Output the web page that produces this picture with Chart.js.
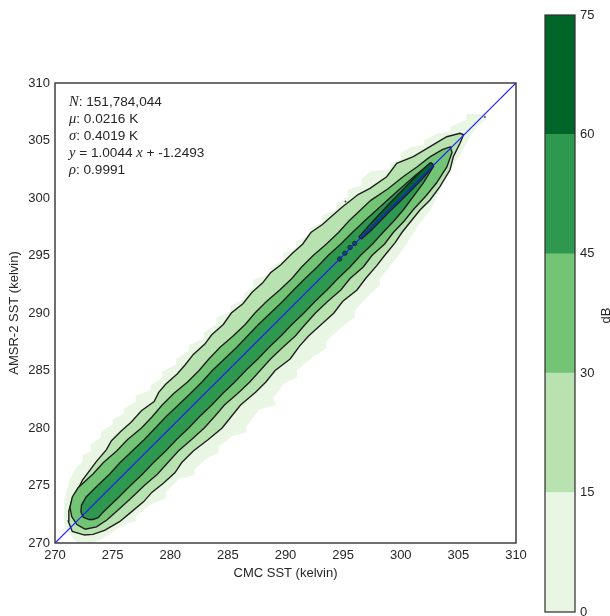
<!DOCTYPE html>
<html>
<head>
<meta charset="utf-8">
<title>AMSR-2 vs CMC SST</title>
<script src="https://cdn.jsdelivr.net/npm/chart.js@4.4.0/dist/chart.umd.min.js"></script>
<style>
  html, body { margin: 0; padding: 0; background: #fff; }
  #wrap { position: relative; width: 610px; height: 616px; }
  #main { position: absolute; left: 0; top: 0; }
  #cbar { position: absolute; left: 530px; top: 0; }
</style>
</head>
<body>
<div id="wrap">
  <canvas id="main" width="530" height="616"></canvas>
  <canvas id="cbar" width="80" height="616"></canvas>
</div>
<script>
// axes
const sstMin = 270, sstMax = 310, sstStep = 5;
const xTitle = 'CMC SST (kelvin)';
const yTitle = 'AMSR-2 SST (kelvin)';

// colour levels (dB) and their fills
const levels = [0, 15, 30, 45, 60, 75];
const bandColors = ['#e9f6e4', '#b8e3b1', '#74c476', '#2f984f', '#006529'];
const cbarLabel = 'dB';

// summary stats
const sampleCount = '151,784,044';
const meanBias = '0.0216 K';
const stdDev = '0.4019 K';
const slope = '1.0044';
const intercept = '-1.2493';
const corr = '0.9991';

// 1:1 reference line
const oneToOne = [270, 310];

// density contours, [CMC, AMSR-2] rings
const ring0 = [
  [272.0,270.0],[271.5,270.5],[270.9,271.2],[270.75,272.3],[270.8,273.5],[271.0,274.5],[271.3,275.6],
  [271.8,276.5],[272.4,277.1],[272.4,277.6],[273.1,278.0],[273.1,278.6],[274.0,279.2],[274.0,279.7],
  [275.0,280.3],[275.0,280.7],[276.0,281.3],[276.0,281.7],[277.0,282.3],[277.0,282.8],[278.3,283.3],
  [278.3,283.7],[279.3,284.4],[279.3,284.9],[280.5,285.5],[280.5,286.0],[281.6,286.7],[281.6,287.2],
  [282.9,287.8],[282.9,288.3],[284.0,289.0],[284.0,289.6],[285.2,290.1],[285.2,290.6],[286.4,291.2],
  [286.4,291.7],[287.2,292.3],[287.2,292.9],[288.6,293.4],[288.6,293.9],[289.8,294.6],[289.8,295.2],
  [290.9,295.7],[290.9,296.2],[292.1,296.8],[292.1,297.4],[293.2,297.9],[293.2,298.5],[294.4,299.0],
  [294.4,299.5],[295.4,300.1],[295.4,300.7],[296.6,301.1],[296.6,301.6],[297.3,302.3],[299.1,302.5],
  [299.1,303.0],[300.0,303.4],[300.0,303.9],[300.8,304.4],[302.0,304.6],[302.0,305.0],[303.2,305.6],
  [304.3,305.8],[304.3,306.2],[305.7,306.8],[305.7,307.3],[307.45,307.3],
  [307.4,306.8],[306.6,306.2],[306.0,305.3],[305.4,304.2],[304.6,302.9],[303.7,301.3],[302.6,299.0],
  [301.5,297.6],[300.5,296.0],[299.5,294.6],[298.2,293.0],[298.2,292.4],[297.3,291.6],[296.0,290.2],
  [296.0,289.6],[295.0,288.9],[293.5,287.5],[293.5,286.9],[292.4,286.2],[291.0,285.0],[291.0,284.4],
  [289.9,283.9],[288.9,282.6],[289.2,282.0],[287.7,281.6],[286.6,280.1],[286.6,279.6],[285.4,279.3],
  [284.2,278.4],[284.2,277.9],[283.1,277.3],[282.1,276.4],[282.1,275.9],[280.8,275.6],[279.6,274.4],
  [279.6,273.9],[278.2,273.3],[277.0,272.3],[277.0,271.9],[275.9,271.6],[274.8,270.8],[273.8,270.2],
  [273.0,270.0]
];
const ring15 = [
  [272.5,270.7],[271.5,271.0],[271.15,271.9],[271.2,272.8],[271.5,273.8],[271.95,274.6],[272.4,275.5],
  [273.0,276.3],[273.6,277.1],[274.45,278.1],[274.9,278.9],[275.7,279.7],[276.6,280.5],[277.5,281.5],
  [278.6,282.3],[279.0,283.1],[279.6,283.8],[280.6,284.7],[281.3,285.5],[282.0,286.4],[283.0,287.3],
  [283.6,288.1],[284.6,289.0],[285.3,290.0],[286.3,290.8],[287.1,291.8],[288.0,292.6],[288.7,293.5],
  [289.6,294.2],[290.6,295.2],[291.5,296.0],[292.2,297.0],[293.2,297.7],[294.1,298.5],[294.9,299.2],
  [296.3,300.3],[297.33,300.84],[298.78,301.85],[299.65,303.02],[301.09,303.59],[302.54,304.46],
  [303.99,305.33],[305.14,305.63],[305.45,305.5],
  [305.14,304.76],[304.56,303.59],[304.27,302.43],[303.4,300.98],[302.54,299.83],[301.67,298.96],
  [300.9,298.0],[300.1,297.0],[299.5,296.1],[298.6,295.0],[297.9,294.1],[296.95,293.0],[296.2,292.0],
  [294.95,291.0],[294.2,290.0],[293.1,289.0],[292.0,288.0],[291.2,287.1],[290.4,286.0],[289.1,285.0],
  [288.3,284.0],[287.4,283.1],[286.1,282.0],[285.3,281.0],[284.5,280.0],[283.3,279.0],[282.0,278.0],
  [281.0,277.0],[280.4,276.1],[279.4,275.2],[278.4,274.4],[277.7,273.6],[276.5,272.6],[275.6,271.85],
  [274.3,271.1],[273.3,270.75]
];
const ring30 = [
  [272.6,271.2],[271.9,271.6],[271.45,272.3],[271.3,273.1],[271.5,274.0],[272.0,274.8],[273.3,276.0],
  [274.2,277.0],[275.35,278.0],[276.3,279.0],[277.5,280.0],[278.45,281.0],[279.3,282.0],[280.3,283.0],
  [281.5,284.0],[282.5,285.0],[283.35,286.0],[284.3,287.0],[285.45,288.0],[286.5,289.0],[287.35,290.0],
  [288.35,291.0],[289.5,292.0],[290.55,293.0],[291.4,294.0],[292.4,295.0],[293.55,296.0],[294.6,297.0],
  [295.5,298.0],[297.4,299.8],[298.9,300.8],[300.2,301.85],[301.4,302.7],[302.5,303.55],[303.6,304.2],
  [304.3,304.45],
  [304.45,303.95],[304.0,302.7],[303.1,301.3],[302.2,300.2],[301.1,299.0],[300.3,298.0],[299.35,297.0],
  [298.6,296.0],[297.5,295.0],[296.75,294.0],[295.6,293.0],[294.8,292.0],[293.65,291.0],[292.6,290.0],
  [291.7,289.0],[290.85,288.0],[289.75,287.0],[288.7,286.0],[287.8,285.0],[286.9,284.0],[285.85,283.0],
  [284.7,282.0],[283.85,281.0],[282.95,280.0],[281.85,279.0],[280.7,278.0],[279.8,277.0],[278.9,276.0],
  [277.75,275.0],[276.5,273.8],[275.4,272.8],[274.5,272.0],[273.6,271.4]
];
const ring45 = [
  [272.9,272.05],[272.45,272.25],[272.25,272.7],[272.3,273.3],[272.7,274.0],[273.7,275.0],[274.75,276.0],
  [275.65,277.0],[276.7,278.0],[277.75,279.0],[278.7,280.0],[279.65,281.0],[280.7,282.0],[281.75,283.0],
  [282.75,284.0],[283.65,285.0],[284.7,286.0],[285.75,287.0],[286.7,288.0],[287.65,289.0],[288.7,290.0],
  [289.75,291.0],[290.7,292.0],[291.7,293.0],[292.75,294.0],[293.7,295.0],[294.8,296.0],[295.8,297.0],
  [296.85,298.0],[297.95,299.0],[299.6,300.5],[301.3,302.0],[302.65,303.05],
  [302.85,302.75],[301.95,301.3],[300.25,299.0],[299.4,298.0],[298.45,297.0],[297.55,296.0],[296.5,295.0],
  [295.6,294.0],[294.55,293.0],[293.6,292.0],[292.55,291.0],[291.6,290.0],[290.55,289.0],[289.6,288.0],
  [288.55,287.0],[287.6,286.0],[286.55,285.0],[285.6,284.0],[284.55,283.0],[283.6,282.0],[282.55,281.0],
  [281.6,280.0],[280.55,279.0],[279.6,278.0],[278.55,277.0],[277.6,276.0],[276.55,275.0],[275.55,274.0],
  [274.5,273.0],[274.1,272.6],[273.75,272.2],[273.3,272.05]
];
const ring60 = [
  [296.35,296.6],[297.5,297.9],[299.0,299.5],[300.5,301.05],[301.8,302.4],[302.55,303.05],[302.8,302.95],
  [302.75,302.7],[301.9,301.7],[300.4,300.15],[298.9,298.7],[297.5,297.25],[296.6,296.45]
];

// small isolated peaks along the 1:1 line
const peakX = [296.0, 295.6, 295.15, 294.7];
const peakY = [296.05, 295.7, 295.2, 294.7];
// stray low-level specks
const speckX = [295.2, 307.3];
const speckY = [299.7, 307.05];

const textColor = '#262626';
const sans = '"Liberation Sans", Arial, sans-serif';
const tickFont = { family: sans, size: 13 };

const pts = ring => ring.map(([x, y]) => ({ x, y }));
const closed = ring => pts(ring.concat([ring[0]]));

function contour(ring, color, outline) {
  return {
    data: closed(ring),
    areaColor: color,
    showLine: outline,
    borderColor: '#1f1f1f',
    borderWidth: 1.4,
    pointRadius: 0,
    fill: false,
    tension: 0
  };
}

// fills a dataset's ring using the points the scales placed
const areaFill = {
  id: 'areaFill',
  beforeDatasetDraw(chart, args) {
    const color = chart.data.datasets[args.index].areaColor;
    if (!color) return;
    const { ctx, chartArea: a } = chart;
    const p = args.meta.data;
    ctx.save();
    ctx.beginPath();
    ctx.rect(a.left, a.top, a.right - a.left, a.bottom - a.top);
    ctx.clip();
    ctx.beginPath();
    p.forEach((pt, i) => (i ? ctx.lineTo(pt.x, pt.y) : ctx.moveTo(pt.x, pt.y)));
    ctx.closePath();
    ctx.fillStyle = color;
    ctx.fill();
    ctx.restore();
  }
};

const frame = {
  id: 'frame',
  afterDraw(chart, args, opts) {
    const { ctx, chartArea: a } = chart;
    ctx.save();
    ctx.strokeStyle = opts.color || '#333';
    ctx.lineWidth = opts.width || 1.25;
    ctx.strokeRect(a.left, a.top, a.right - a.left, a.bottom - a.top);
    ctx.restore();
  }
};

const statLines = [
  [['N', true], [': ' + sampleCount]],
  [['\u03bc', true], [': ' + meanBias]],
  [['\u03c3', true], [': ' + stdDev]],
  [['y', true], [' = ' + slope + ' '], ['x', true], [' + ' + intercept]],
  [['\u03c1', true], [': ' + corr]]
];

const statsBox = {
  id: 'statsBox',
  afterDatasetsDraw(chart) {
    const { ctx, chartArea: a } = chart;
    ctx.save();
    ctx.fillStyle = textColor;
    ctx.textBaseline = 'middle';
    ctx.textAlign = 'left';
    statLines.forEach((parts, i) => {
      let x = a.left + 14;
      const y = a.top + 19 + i * 17;
      parts.forEach(([text, math]) => {
        ctx.font = math ? 'italic 14.5px "Liberation Serif", serif' : '13.6px ' + sans;
        ctx.fillText(text, x, y);
        x += ctx.measureText(text).width;
      });
    });
    ctx.restore();
  }
};

const noPadX = s => { s.paddingLeft = 0; s.paddingRight = 0; };
const noPadY = s => { s.paddingTop = 0; s.paddingBottom = 0; };

new Chart(document.getElementById('main'), {
  type: 'scatter',
  data: {
    datasets: [
      {
        data: pts([[oneToOne[0], oneToOne[0]], [oneToOne[1], oneToOne[1]]]),
        showLine: true, borderColor: '#1a1aff', borderWidth: 1.2, pointRadius: 0
      },
      {
        data: peakX.map((x, i) => ({ x, y: peakY[i] })),
        pointRadius: 2.2, pointBackgroundColor: bandColors[4],
        pointBorderColor: '#1a1a1a', pointBorderWidth: 0.8
      },
      {
        data: speckX.map((x, i) => ({ x, y: speckY[i] })),
        pointRadius: 1, pointBackgroundColor: '#555', pointBorderWidth: 0
      },
      contour(ring60, bandColors[4], true),
      contour(ring45, bandColors[3], true),
      contour(ring30, bandColors[2], true),
      contour(ring15, bandColors[1], true),
      contour(ring0, bandColors[0], false)
    ]
  },
  options: {
    responsive: false,
    animation: false,
    layout: { padding: { top: 83, right: 14, left: 0, bottom: 0 } },
    plugins: {
      legend: { display: false },
      tooltip: { enabled: false },
      frame: { color: '#333', width: 1.4 }
    },
    scales: {
      x: {
        type: 'linear', min: sstMin, max: sstMax,
        ticks: { stepSize: sstStep, color: textColor, font: tickFont, padding: 5 },
        grid: { display: false, drawTicks: false },
        border: { display: false },
        title: { display: true, text: xTitle, color: textColor, font: tickFont, padding: { bottom: 35 } },
        afterFit: s => { s.height = 73; noPadX(s); }
      },
      y: {
        type: 'linear', min: sstMin, max: sstMax,
        ticks: { stepSize: sstStep, color: textColor, font: tickFont, padding: 5 },
        grid: { display: false, drawTicks: false },
        border: { display: false },
        title: { display: true, text: yTitle, color: textColor, font: tickFont, padding: { top: 7 } },
        afterFit: s => { s.width = 55; noPadY(s); }
      }
    }
  },
  plugins: [areaFill, frame, statsBox]
});

// colour bar
const cbarTitle = {
  id: 'cbarTitle',
  afterDraw(chart) {
    const { ctx, chartArea: a } = chart;
    ctx.save();
    ctx.translate(76, (a.top + a.bottom) / 2 + 2);
    ctx.rotate(-Math.PI / 2);
    ctx.font = '13px ' + sans;
    ctx.fillStyle = textColor;
    ctx.textAlign = 'center';
    ctx.textBaseline = 'middle';
    ctx.fillText(cbarLabel, 0, 0);
    ctx.restore();
  }
};

new Chart(document.getElementById('cbar'), {
  type: 'bar',
  data: {
    labels: [cbarLabel],
    datasets: bandColors.map((c, i) => ({
      data: [[levels[i], levels[i + 1]]],
      backgroundColor: c,
      borderWidth: 0,
      barPercentage: 1,
      categoryPercentage: 1,
      grouped: false
    }))
  },
  options: {
    responsive: false,
    animation: false,
    layout: { padding: { left: 15, top: 15, bottom: 4, right: 0 } },
    plugins: {
      legend: { display: false },
      tooltip: { enabled: false },
      frame: { color: '#333', width: 1.25 }
    },
    scales: {
      x: { display: false },
      y: {
        position: 'right',
        min: levels[0], max: levels[levels.length - 1],
        ticks: { stepSize: 15, color: textColor, font: tickFont, padding: 5 },
        grid: { display: false, drawTicks: false },
        border: { display: false },
        afterFit: s => { s.width = 35; noPadY(s); }
      }
    }
  },
  plugins: [frame, cbarTitle]
});
</script>
</body>
</html>
